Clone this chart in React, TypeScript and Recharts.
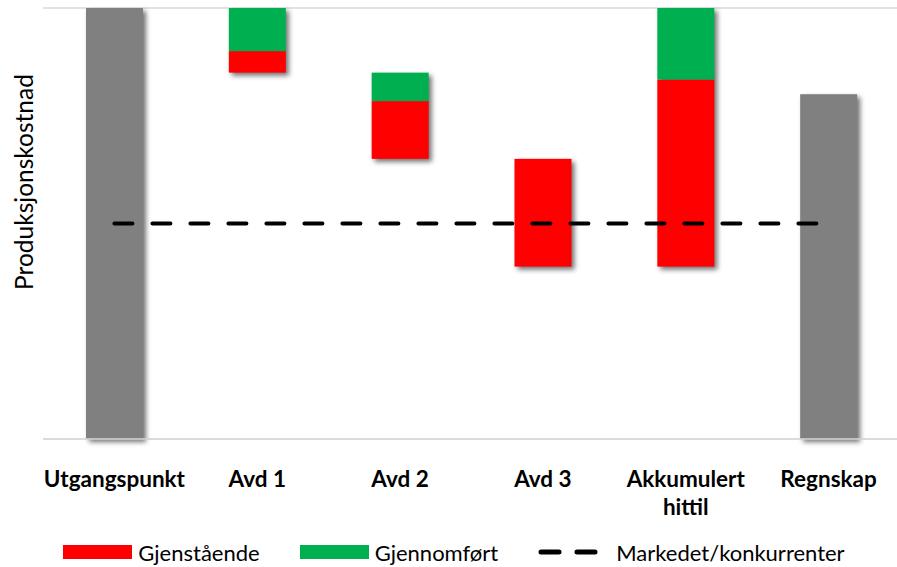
import React from "react";
import {
  ComposedChart,
  Bar,
  Line,
  XAxis,
  YAxis,
  CartesianGrid,
  Legend,
} from "recharts";

const categories = ["Utgangspunkt", "Avd 1", "Avd 2", "Avd 3", "Akkumulert hittil", "Regnskap"];
// invisible offset under the floating segments
const baseValues = [0, 4.25, 3.25, 2, 2, 0];
const totalValues = [5, 0, 0, 0, 0, 4];
const remainingValues = [0, 0.25, 0.67, 1.25, 2.17, 0]; // Gjenstående
const doneValues = [0, 0.5, 0.33, 0, 0.83, 0]; // Gjennomført
const marketValues = [2.5, 2.5, 2.5, 2.5, 2.5, 2.5];
const yTicks = [0, 1, 2, 3, 4, 5];

const data = categories.map((name, i) => ({
  name,
  base: baseValues[i],
  total: totalValues[i],
  remaining: remainingValues[i],
  done: doneValues[i],
  market: marketValues[i],
}));

const FONT = "Lato, 'Noto Sans', sans-serif";
const GRAY = "#808080";
const RED = "#ff0000";
const GREEN = "#00b050";

const Shadow = ({ x, y, width, height }: any) => (
  <rect
    x={x + 3}
    y={y + 3}
    width={width}
    height={height}
    fill="#000"
    fillOpacity={0.55}
    filter="url(#barShadow)"
  />
);

const GrayShape = (props: any) => {
  const { x, y, width, height } = props;
  if (!height || height <= 0) return null;
  return (
    <g>
      <Shadow x={x} y={y} width={width} height={height} />
      <rect x={x} y={y} width={width} height={height} fill={GRAY} />
    </g>
  );
};

// red draws the shadow of the whole floating column, so green on top stays clean
const RedShape = (props: any) => {
  const { x, y, width, height, payload } = props;
  if (!height || height <= 0) return null;
  const perUnit = height / payload.remaining;
  const greenH = (payload.done || 0) * perUnit;
  return (
    <g>
      <Shadow x={x} y={y - greenH} width={width} height={height + greenH} />
      <rect x={x} y={y} width={width} height={height} fill={RED} />
    </g>
  );
};

const GreenShape = (props: any) => {
  const { x, y, width, height } = props;
  if (!height || height <= 0) return null;
  return <rect x={x} y={y} width={width} height={height} fill={GREEN} />;
};

const CategoryTick = (props: any) => {
  const { x, y, payload } = props;
  const words = String(payload.value).split(" ");
  const lines = payload.value.length > 12 ? words : [payload.value];
  return (
    <text
      x={x}
      y={y + 40}
      textAnchor="middle"
      fontFamily={FONT}
      fontWeight="bold"
      fontSize={22.5}
      fill="#000"
    >
      {lines.map((l: string, i: number) => (
        <tspan key={i} x={x} dy={i === 0 ? 0 : 28}>
          {l}
        </tspan>
      ))}
    </text>
  );
};

const AxisTitle = () => (
  <text
    x={0}
    y={0}
    transform="translate(33, 182) rotate(-90)"
    textAnchor="middle"
    fontFamily={FONT}
    fontSize={24.5}
    fill="#000"
  >
    Produksjonskostnad
  </text>
);

const LegendContent = () => {
  const item = { display: "flex", alignItems: "center", gap: 6 } as const;
  return (
    <div
      style={{
        height: 30,
        display: "flex",
        alignItems: "center",
        justifyContent: "center",
        gap: 40,
        fontFamily: FONT,
        fontSize: 22,
        color: "#000",
        paddingLeft: 8,
      }}
    >
      <div style={item}>
        <span style={{ width: 69, height: 14, background: RED, display: "inline-block" }} />
        <span>Gjenstående</span>
      </div>
      <div style={item}>
        <span style={{ width: 69, height: 14, background: GREEN, display: "inline-block" }} />
        <span>Gjennomført</span>
      </div>
      <div style={{ ...item, gap: 16 }}>
        <svg width={62} height={14}>
          <line x1={3} y1={7} x2={60} y2={7} stroke="#000" strokeWidth={5} strokeDasharray="18 18" strokeLinecap="round" />
        </svg>
        <span>Markedet/konkurrenter</span>
      </div>
    </div>
  );
};

export default function App() {
  return (
    <div style={{ position: "absolute", left: 0, top: 0, background: "#fff" }}>
      <ComposedChart
        width={900}
        height={567}
        data={data}
        margin={{ top: 8, right: 0, bottom: 0, left: 0 }}
        barCategoryGap={0}
      >
        <defs>
          <filter id="barShadow" x="-30%" y="-30%" width="160%" height="160%">
            <feGaussianBlur stdDeviation="2.5" />
          </filter>
        </defs>
        <CartesianGrid vertical={false} stroke="#d9d9d9" strokeWidth={1.5} />
        <XAxis
          dataKey="name"
          axisLine={{ stroke: "#d9d9d9", strokeWidth: 1.5 }}
          tickLine={false}
          tick={<CategoryTick />}
          interval={0}
          height={98}
        />
        <YAxis
          width={43}
          domain={[0, 5]}
          ticks={yTicks}
          tick={false}
          tickLine={false}
          axisLine={false}
          label={<AxisTitle />}
        />
        <Bar dataKey="base" stackId="s" fill="transparent" barSize={57} isAnimationActive={false} />
        <Bar dataKey="total" stackId="s" shape={<GrayShape />} barSize={57} isAnimationActive={false} />
        <Bar dataKey="remaining" stackId="s" shape={<RedShape />} barSize={57} isAnimationActive={false} />
        <Bar dataKey="done" stackId="s" shape={<GreenShape />} barSize={57} isAnimationActive={false} />
        <Line
          dataKey="market"
          type="linear"
          stroke="#000"
          strokeWidth={4}
          strokeDasharray="18 20"
          strokeLinecap="round"
          dot={false}
          activeDot={false}
          isAnimationActive={false}
        />
        <Legend verticalAlign="bottom" height={30} content={<LegendContent />} />
      </ComposedChart>
    </div>
  );
}
